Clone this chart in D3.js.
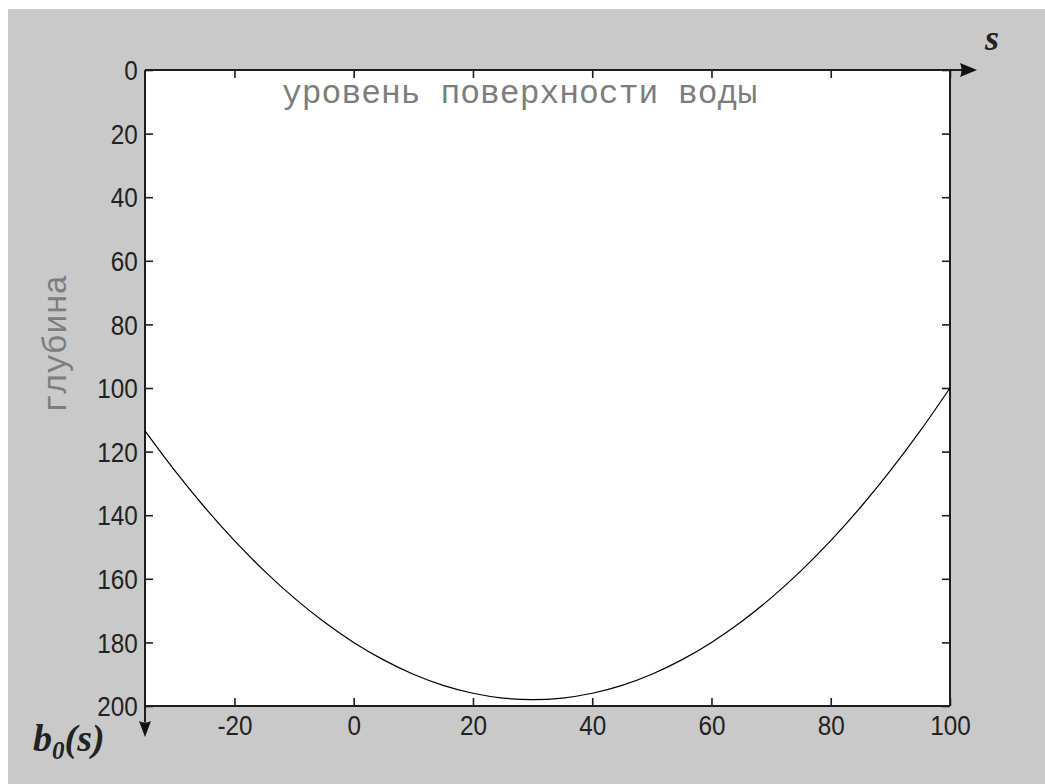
<!DOCTYPE html>
<html>
<head>
<meta charset="utf-8">
<script src="https://cdn.jsdelivr.net/npm/d3@7"></script>
<style>
  html, body { margin: 0; padding: 0; background: #ffffff; }
  svg { display: block; }
</style>
</head>
<body>
<div id="chart"></div>
<script>
// Bottom profile b0(s): depth below the water surface along coordinate s
const sValues = [-35, -30, -25, -20, -15, -10, -5, 0, 5, 10, 15, 20, 25, 30,
                 35, 40, 45, 50, 55, 60, 65, 70, 75, 80, 85, 90, 95, 100];
const depthValues = [113.5, 126, 137.5, 148, 157.5, 166, 173.5, 180, 185.5, 190, 193.5, 196, 197.5, 198,
                     197.5, 196, 193.5, 190, 185.5, 180, 173.5, 166, 157.5, 148, 137.5, 126, 113.5, 100];

const xTicks = [-20, 0, 20, 40, 60, 80, 100];
const yTicks = [0, 20, 40, 60, 80, 100, 120, 140, 160, 180, 200];
const xDomain = [-35, 100];
const yDomain = [0, 200];

const titleText = "уровень поверхности воды";
const yLabelText = "глубина";

const W = 1045, H = 784;
const plot = { left: 145, top: 70, right: 950, bottom: 706 };

const svg = d3.select("#chart").append("svg")
  .attr("width", W).attr("height", H);

// figure background
svg.append("rect").attr("x", 8).attr("y", 9).attr("width", W - 8).attr("height", H - 9)
  .attr("fill", "#c9c9c9");

// plot area
svg.append("rect")
  .attr("x", plot.left).attr("y", plot.top)
  .attr("width", plot.right - plot.left).attr("height", plot.bottom - plot.top)
  .attr("fill", "#ffffff");

const x = d3.scaleLinear().domain(xDomain).range([plot.left, plot.right]);
const y = d3.scaleLinear().domain(yDomain).range([plot.top, plot.bottom]);

const axisColor = "#1e1e1e";
const tickFont = "'Liberation Sans', Arial, sans-serif";
const plainNumber = d => String(d);   // ASCII hyphen for negatives

function styleAxis(g, withLabels) {
  g.select(".domain").remove();
  g.selectAll(".tick line").attr("stroke", axisColor).attr("stroke-width", 1.6);
  if (withLabels) {
    g.selectAll(".tick text")
      .attr("fill", "#222")
      .attr("font-family", tickFont)
      .attr("font-size", 27);
  } else {
    g.selectAll(".tick text").remove();
  }
}

// left axis with labels
svg.append("g")
  .attr("transform", `translate(${plot.left},0)`)
  .call(d3.axisLeft(y).tickValues(yTicks).tickFormat(plainNumber)
    .tickSizeInner(-8).tickSizeOuter(0).tickPadding(8))
  .call(g => styleAxis(g, true))
  .call(g => g.selectAll(".tick text")
    .attr("dy", "0.36em")
    .attr("transform", "scale(0.9,1)"));

// bottom axis with labels
svg.append("g")
  .attr("transform", `translate(0,${plot.bottom})`)
  .call(d3.axisBottom(x).tickValues(xTicks).tickFormat(plainNumber)
    .tickSizeInner(-8).tickSizeOuter(0).tickPadding(10))
  .call(g => styleAxis(g, true))
  .call(g => g.selectAll(".tick text").attr("transform", "scale(0.9,1)"));

// right and top axes (ticks only)
svg.append("g")
  .attr("transform", `translate(${plot.right},0)`)
  .call(d3.axisRight(y).tickValues(yTicks).tickSizeInner(-8).tickSizeOuter(0))
  .call(g => styleAxis(g, false));

svg.append("g")
  .attr("transform", `translate(0,${plot.top})`)
  .call(d3.axisTop(x).tickValues(xTicks).tickSizeInner(-8).tickSizeOuter(0))
  .call(g => styleAxis(g, false));

// frame lines; top line and left line continue into arrows
const frame = svg.append("g").attr("stroke", axisColor).attr("stroke-width", 2).attr("fill", "none");
frame.append("line").attr("x1", plot.left).attr("x2", 962).attr("y1", plot.top).attr("y2", plot.top);
frame.append("line").attr("x1", plot.left).attr("x2", plot.left).attr("y1", plot.top).attr("y2", 722);
frame.append("line").attr("x1", plot.right).attr("x2", plot.right).attr("y1", plot.top).attr("y2", plot.bottom);
frame.append("line").attr("x1", plot.left).attr("x2", plot.right).attr("y1", plot.bottom).attr("y2", plot.bottom);

// arrowheads
svg.append("path")
  .attr("d", `M960,${plot.top - 7} L977,${plot.top} L960,${plot.top + 7} Q963,${plot.top} 960,${plot.top - 7} Z`)
  .attr("fill", "#111");
svg.append("path")
  .attr("d", `M${plot.left - 6},721 L${plot.left},737 L${plot.left + 6},721 Q${plot.left},724 ${plot.left - 6},721 Z`)
  .attr("fill", "#111");

// axis names
svg.append("text")
  .attr("x", 992).attr("y", 50)
  .attr("text-anchor", "middle")
  .attr("font-family", "'Liberation Serif', 'Times New Roman', serif")
  .attr("font-weight", "bold").attr("font-style", "italic")
  .attr("font-size", 36).attr("fill", "#222")
  .text("s");

const bLabel = svg.append("text")
  .attr("x", 33).attr("y", 751)
  .attr("font-family", "'Liberation Serif', 'Times New Roman', serif")
  .attr("font-weight", "bold").attr("font-style", "italic")
  .attr("font-size", 38).attr("fill", "#222");
bLabel.append("tspan").text("b");
bLabel.append("tspan").attr("font-size", 25).attr("dy", 8).text("0");
bLabel.append("tspan").attr("dy", -8).text("(s)");

// annotation and y label in monospace grey
svg.append("text")
  .attr("x", 282).attr("y", 103)
  .attr("font-family", "'Liberation Mono', 'Courier New', monospace")
  .attr("font-size", 33).attr("fill", "#7d7d7d")
  .text(titleText);

svg.append("text")
  .attr("transform", `translate(66,${(273 + 415) / 2}) rotate(-90)`)
  .attr("text-anchor", "middle")
  .attr("font-family", "'Liberation Mono', 'Courier New', monospace")
  .attr("font-size", 33).attr("fill", "#7d7d7d")
  .text(yLabelText);

// bottom profile curve
const line = d3.line()
  .x((d, i) => x(sValues[i]))
  .y(d => y(d))
  .curve(d3.curveCatmullRom);

svg.append("path")
  .datum(depthValues)
  .attr("d", line)
  .attr("fill", "none")
  .attr("stroke", "#000")
  .attr("stroke-width", 1.2);
</script>
</body>
</html>
